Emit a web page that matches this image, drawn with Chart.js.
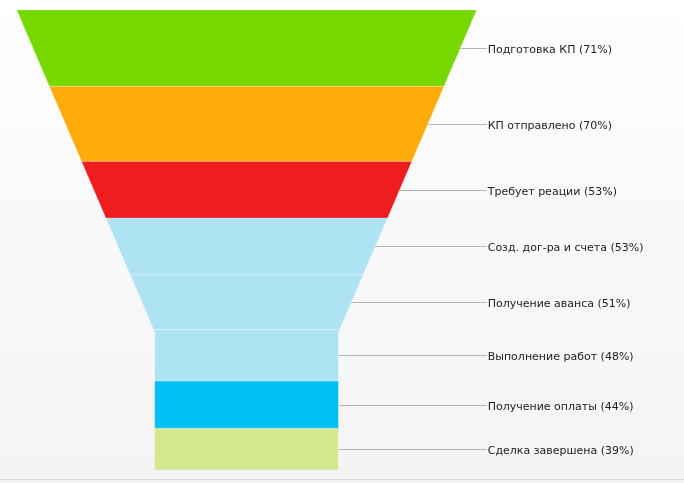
<!DOCTYPE html>
<html lang="ru">
<head>
<meta charset="utf-8">
<title>Воронка продаж</title>
<script src="https://cdn.jsdelivr.net/npm/chart.js@4.4.1/dist/chart.umd.min.js"></script>
<style>
    html, body { margin: 0; padding: 0; }
    body {
        width: 684px;
        height: 483px;
        overflow: hidden;
        background: linear-gradient(to bottom, #ffffff 0%, #f9f9f9 45%, #f4f4f4 100%);
    }
    #wrap { position: relative; width: 684px; height: 483px; }
    #wrap:after {
        content: '';
        position: absolute;
        left: 0; right: 0; top: 479px;
        height: 1px;
        background: #dcdcdc;
    }
</style>
</head>
<body>
<div id="wrap">
    <canvas id="funnelChart" width="684" height="483"></canvas>
</div>
<script>
// Данные воронки
const etapy = ['Подготовка КП', 'КП отправлено', 'Требует реации', 'Созд. дог-ра и счета',
    'Получение аванса', 'Выполнение работ', 'Получение оплаты', 'Сделка завершена'];
const procenty = [71, 70, 53, 53, 51, 48, 44, 39];
const cveta = ['#77d800', '#ffab0a', '#ee1d1f', '#aee3f4', '#aee3f4', '#aee3f4', '#00bff3', '#d4e88f'];

// Форма воронки (как в amCharts: горлышко 40% ширины, 30% высоты)
const shirinaGorla = 0.4;
const vysotaGorla = 0.3;

const vsego = procenty.reduce((a, b) => a + b, 0);
const yGorla = vsego * (1 - vysotaGorla);

// полуширина воронки на уровне y (в единицах оси x)
function poluShirina(y) {
    if (y >= yGorla) return shirinaGorla / 2;
    return 0.5 - (0.5 - shirinaGorla / 2) * (y / yGorla);
}

// Построение трапеций для каждого этапа
let nakop = 0;
const segmenty = procenty.map((v, i) => {
    const y0 = nakop;
    const y1 = nakop + v;
    nakop = y1;
    const pravo = [{ x: poluShirina(y0), y: y0 }];
    if (y0 < yGorla && y1 > yGorla) pravo.push({ x: poluShirina(yGorla), y: yGorla });
    pravo.push({ x: poluShirina(y1), y: y1 });
    const levo = pravo.slice().reverse().map(p => ({ x: -p.x, y: p.y }));
    const tochki = pravo.concat(levo);
    tochki.push(tochki[0]);
    return { y0: y0, y1: y1, tochki: tochki };
});

// Подписи справа с выносными линиями
const podpisiPlugin = {
    id: 'podpisi',
    afterDatasetsDraw(chart) {
        const ctx = chart.ctx;
        const sx = chart.scales.x;
        const sy = chart.scales.y;
        const xText = chart.chartArea.right + 11;
        ctx.save();
        ctx.font = '11px "DejaVu Sans", Verdana, sans-serif';
        ctx.textBaseline = 'middle';
        ctx.textAlign = 'left';
        segmenty.forEach((s, i) => {
            const ym = (s.y0 + s.y1) / 2;
            const py = Math.round(sy.getPixelForValue(ym)) + 0.5;
            const px = sx.getPixelForValue(poluShirina(ym));
            ctx.strokeStyle = '#b4b4b4';
            ctx.lineWidth = 1;
            ctx.beginPath();
            ctx.moveTo(px, py);
            ctx.lineTo(xText - 1, py);
            ctx.stroke();
            ctx.fillStyle = '#222222';
            // текст чуть ниже линии, как в оригинале
            ctx.fillText(etapy[i] + ' (' + procenty[i] + '%)', xText, py + 2);
        });
        ctx.restore();
    }
};

const ctx = document.getElementById('funnelChart').getContext('2d');
new Chart(ctx, {
    type: 'scatter',
    data: {
        datasets: segmenty.map((s, i) => ({
            label: etapy[i],
            data: s.tochki,
            showLine: true,
            fill: 'shape',
            backgroundColor: cveta[i],
            borderColor: 'rgba(255, 255, 255, 0.25)',
            borderWidth: 1,
            pointRadius: 0,
            pointHoverRadius: 0,
            tension: 0
        }))
    },
    options: {
        responsive: false,
        animation: false,
        layout: {
            padding: { left: 16.7, right: 207.3, top: 10, bottom: 13 }
        },
        scales: {
            x: { type: 'linear', min: -0.5, max: 0.5, display: false },
            y: { type: 'linear', min: 0, max: vsego, reverse: true, display: false }
        },
        plugins: {
            legend: { display: false },
            tooltip: { enabled: false }
        }
    },
    plugins: [podpisiPlugin]
});
</script>
</body>
</html>
